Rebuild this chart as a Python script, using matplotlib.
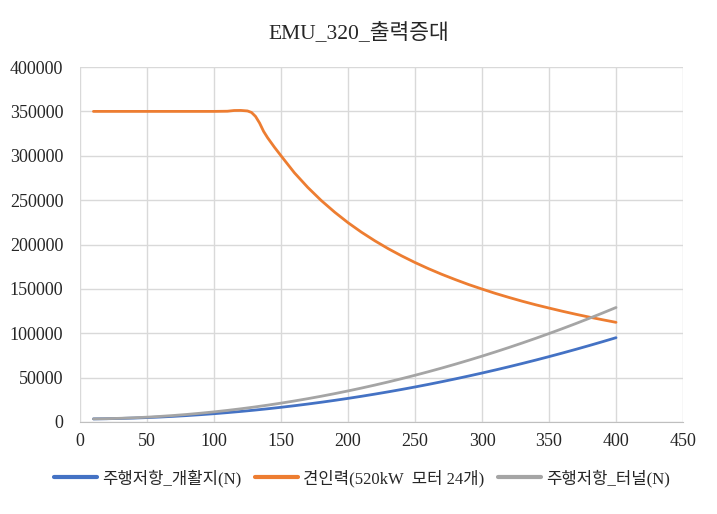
import matplotlib
matplotlib.use("Agg")
import matplotlib.pyplot as plt

plt.rcParams['font.family'] = ['Liberation Serif', 'Noto Sans CJK KR']

speed = list(range(10, 401, 10))
res_open = [3490, 3690, 4000, 4420, 4960, 5610, 6380, 7260, 8250, 9350,
            10570, 11900, 13340, 14890, 16560, 18340, 20240, 22250, 24370, 26600,
            28950, 31410, 33980, 36660, 39460, 42370, 45400, 48540, 51790, 55150,
            58630, 62220, 65920, 69730, 73660, 77700, 81860, 86130, 90510, 95000]
res_tunnel = [3500, 3750, 4160, 4730, 5450, 6330, 7360, 8550, 9900, 11400,
              13060, 14870, 16840, 18970, 21250, 23690, 26280, 29030, 31940, 35000,
              38220, 41590, 45120, 48810, 52650, 56650, 60800, 65110, 69580, 74200,
              78980, 83910, 89000, 94250, 99650, 105210, 110920, 116790, 122820, 129000]

speed_trac = [10, 20, 30, 40, 50, 60, 70, 80, 90, 100, 110, 115, 120, 125, 128, 131, 134,
              137, 140, 145, 150, 160, 170, 180, 190, 200, 210, 220, 230, 240, 250, 260,
              270, 280, 290, 300, 310, 320, 330, 340, 350, 360, 370, 380, 390, 400]
tractive = [350000, 350000, 350000, 350000, 350000, 350000, 350000, 350000, 350000, 350000,
            350200, 351000, 351100, 350500, 348800, 344300, 336900, 327500, 320300, 309800, 300000,
            280800, 264300, 249600, 236500, 224600, 213900, 204200, 195300, 187200,
            179700, 172800, 166400, 160500, 154900, 149800, 144900, 140400, 136100,
            132100, 128400, 124800, 121400, 118200, 115200, 112300]

labels = ['주행저항_개활지(N)', '견인력(520kW  모터 24개)', '주행저항_터널(N)']
colors = ['#4472C4', '#ED7D31', '#A5A5A5']
title = 'EMU_320_출력증대'

fig = plt.figure(figsize=(7.17, 5.14), dpi=100)
ax = fig.add_axes([0.1116, 0.179, 0.841, 0.6906])

ax.plot(speed, res_open, color=colors[0], lw=2.0, label=labels[0], solid_capstyle='round')
ax.plot(speed_trac, tractive, color=colors[1], lw=2.0, label=labels[1], solid_capstyle='round')
ax.plot(speed, res_tunnel, color=colors[2], lw=2.0, label=labels[2], solid_capstyle='round')

ax.set_xlim(0, 450)
ax.set_ylim(0, 400000)
ax.set_xticks(range(0, 451, 50))
ax.set_yticks(range(0, 400001, 50000))
ax.grid(True, color='#D9D9D9', lw=1.0)
ax.set_axisbelow(True)
for s in ['top', 'right', 'left']:
    ax.spines[s].set_visible(False)
ax.spines['bottom'].set_color('#BFBFBF')
ax.tick_params(length=0, labelsize=13, colors='#262626')
ax.tick_params(axis='y', pad=12)
ax.tick_params(axis='x', pad=8)

fig.text(0.5, 0.935, title, ha='center', va='center', fontsize=15.5, color='#262626')
leg = fig.legend(loc='center', ncol=3, frameon=False,
                 fontsize=12, handlelength=2.6, columnspacing=0.8, handletextpad=0.3,
                 bbox_to_anchor=(0.505, 0.07), bbox_transform=fig.transFigure)
for t in leg.get_texts():
    t.set_color('#262626')
for l in leg.get_lines():
    l.set_linewidth(3)

fig.savefig('out.png', dpi=100)
